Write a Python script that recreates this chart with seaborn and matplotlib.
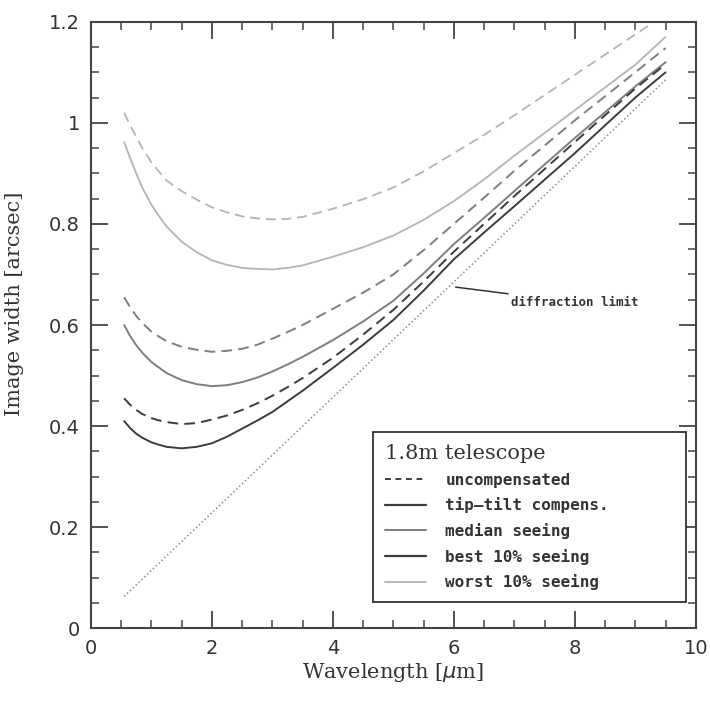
import matplotlib
matplotlib.use("Agg")
import matplotlib.pyplot as plt
from matplotlib.lines import Line2D
from matplotlib.ticker import MultipleLocator
import pandas as pd
import seaborn as sns

# Wavelength grid [micron]
wavelength = [0.55, 0.65, 0.75, 0.85, 1.0, 1.1, 1.25, 1.5, 1.75, 2.0, 2.25, 2.5, 2.75,
              3.0, 3.25, 3.5, 4.0, 4.5, 5.0, 5.5, 6.0, 6.5, 7.0, 8.0, 9.0, 9.5]

# Image width [arcsec] for the 1.8 m telescope
worst_uncomp = [1.020, 0.995, 0.972, 0.950, 0.922, 0.907, 0.886, 0.865, 0.848, 0.833,
                0.823, 0.815, 0.811, 0.809, 0.810, 0.814, 0.830, 0.849, 0.872, 0.904,
                0.940, 0.976, 1.015, 1.095, 1.175, 1.215]
worst_tiptilt = [0.962, 0.930, 0.900, 0.872, 0.838, 0.820, 0.795, 0.765, 0.744, 0.728,
                 0.719, 0.713, 0.711, 0.710, 0.713, 0.718, 0.735, 0.754, 0.777, 0.808,
                 0.845, 0.888, 0.935, 1.025, 1.115, 1.170]
median_uncomp = [0.655, 0.635, 0.618, 0.604, 0.587, 0.579, 0.568, 0.557, 0.551, 0.547,
                 0.549, 0.553, 0.561, 0.573, 0.586, 0.600, 0.632, 0.664, 0.700, 0.748,
                 0.800, 0.852, 0.905, 1.005, 1.100, 1.148]
median_tiptilt = [0.600, 0.578, 0.560, 0.545, 0.527, 0.518, 0.505, 0.491, 0.483, 0.479,
                  0.481, 0.487, 0.496, 0.508, 0.522, 0.537, 0.570, 0.607, 0.648, 0.702,
                  0.760, 0.812, 0.865, 0.970, 1.072, 1.120]
best_uncomp = [0.455, 0.442, 0.432, 0.424, 0.416, 0.412, 0.408, 0.404, 0.406, 0.413,
               0.421, 0.432, 0.445, 0.460, 0.477, 0.495, 0.535, 0.581, 0.630, 0.686,
               0.745, 0.800, 0.855, 0.962, 1.068, 1.116]
best_tiptilt = [0.410, 0.396, 0.385, 0.377, 0.368, 0.364, 0.359, 0.356, 0.359, 0.366,
                0.379, 0.395, 0.411, 0.428, 0.449, 0.470, 0.515, 0.561, 0.610, 0.668,
                0.730, 0.783, 0.835, 0.940, 1.050, 1.100]

diff_wavelength = [0.55, 9.5]
diff_limit = [0.063, 1.085]

legend_title = "1.8m telescope"
legend_labels = ["uncompensated", "tip\u2013tilt compens.", "median seeing",
                 "best 10% seeing", "worst 10% seeing"]

LIGHT = "#b4b4b4"
MEDIUM = "#7e7e7e"
DARK = "#3c3c3c"
DASH = (0, (5.5, 3.2))

sns.set_theme(style="ticks")
plt.rcParams["font.family"] = ["DejaVu Sans"]

fig = plt.figure(figsize=(7.10, 7.02), dpi=100)
ax = fig.add_axes([0.128, 0.105, 0.852, 0.864])

series = [
    (worst_uncomp, LIGHT, DASH, 1.3),
    (worst_tiptilt, LIGHT, "-", 1.3),
    (median_uncomp, MEDIUM, DASH, 1.4),
    (median_tiptilt, MEDIUM, "-", 1.4),
    (best_uncomp, DARK, DASH, 1.4),
    (best_tiptilt, DARK, "-", 1.4),
]
for values, color, ls, lw in series:
    df = pd.DataFrame({"wavelength": wavelength, "width": values})
    sns.lineplot(data=df, x="wavelength", y="width", ax=ax, color=color,
                 linewidth=lw, estimator=None, sort=False)
    ax.lines[-1].set_linestyle(ls)

df_diff = pd.DataFrame({"wavelength": diff_wavelength, "width": diff_limit})
sns.lineplot(data=df_diff, x="wavelength", y="width", ax=ax, color="#8a8a8a",
             linewidth=1.1, estimator=None, sort=False)
ax.lines[-1].set_linestyle((0, (1, 1.6)))

# annotation for the diffraction-limited line
ax.annotate("diffraction limit", xy=(6.03, 0.675), xytext=(6.95, 0.645),
            fontsize=9, fontfamily="DejaVu Sans Mono", fontweight="bold",
            color="#333333", va="center", ha="left",
            arrowprops=dict(arrowstyle="-", color="#333333", lw=1.1,
                            shrinkA=0, shrinkB=0))

ax.set_xlim(0, 10)
ax.set_ylim(0, 1.2)
ax.xaxis.set_major_locator(MultipleLocator(2))
ax.xaxis.set_minor_locator(MultipleLocator(0.5))
ax.yaxis.set_major_locator(MultipleLocator(0.2))
ax.yaxis.set_minor_locator(MultipleLocator(0.05))
ax.set_xticks([0, 2, 4, 6, 8, 10])
ax.set_xticklabels(["0", "2", "4", "6", "8", "10"])
ax.set_yticks([0, 0.2, 0.4, 0.6, 0.8, 1.0, 1.2])
ax.set_yticklabels(["0", "0.2", "0.4", "0.6", "0.8", "1", "1.2"])

ax.tick_params(which="both", direction="in", top=True, right=True,
               colors="#444444", labelcolor="#333333")
ax.tick_params(which="major", length=12, width=1.3, labelsize=14, pad=8)
ax.tick_params(which="minor", length=6, width=1.1)
for sp in ax.spines.values():
    sp.set_color("#444444")
    sp.set_linewidth(1.5)
    sp.set_visible(True)

ax.set_xlabel("Wavelength [$\\mu$m]", fontsize=15, fontfamily="DejaVu Serif",
              color="#333333", labelpad=2)
ax.set_ylabel("Image width [arcsec]", fontsize=15, fontfamily="DejaVu Serif",
              color="#333333")
ax.yaxis.set_label_coords(-0.11, 0.535)

handles = [
    Line2D([], [], color=DARK, lw=1.4, linestyle=(0, (3, 2.4))),
    Line2D([], [], color=DARK, lw=1.6),
    Line2D([], [], color=MEDIUM, lw=1.4),
    Line2D([], [], color=DARK, lw=1.6),
    Line2D([], [], color=LIGHT, lw=1.3),
]
leg = ax.legend(handles, legend_labels, title=legend_title,
                loc="lower left", bbox_to_anchor=(0.466, 0.043, 0.517, 0.29),
                mode="expand", borderaxespad=0, frameon=True, fancybox=False,
                framealpha=1, edgecolor="#333333", handlelength=2.6,
                handletextpad=1.2, labelspacing=0.6, borderpad=0.75,
                prop={"family": "DejaVu Sans Mono", "weight": "bold", "size": 11.5},
                title_fontproperties={"family": "DejaVu Serif", "size": 15})
leg.get_frame().set_linewidth(1.3)
leg._legend_box.align = "left"
for t in leg.get_texts():
    t.set_color("#333333")
leg.get_title().set_color("#333333")

fig.savefig("out.png", dpi=100, facecolor="white")
